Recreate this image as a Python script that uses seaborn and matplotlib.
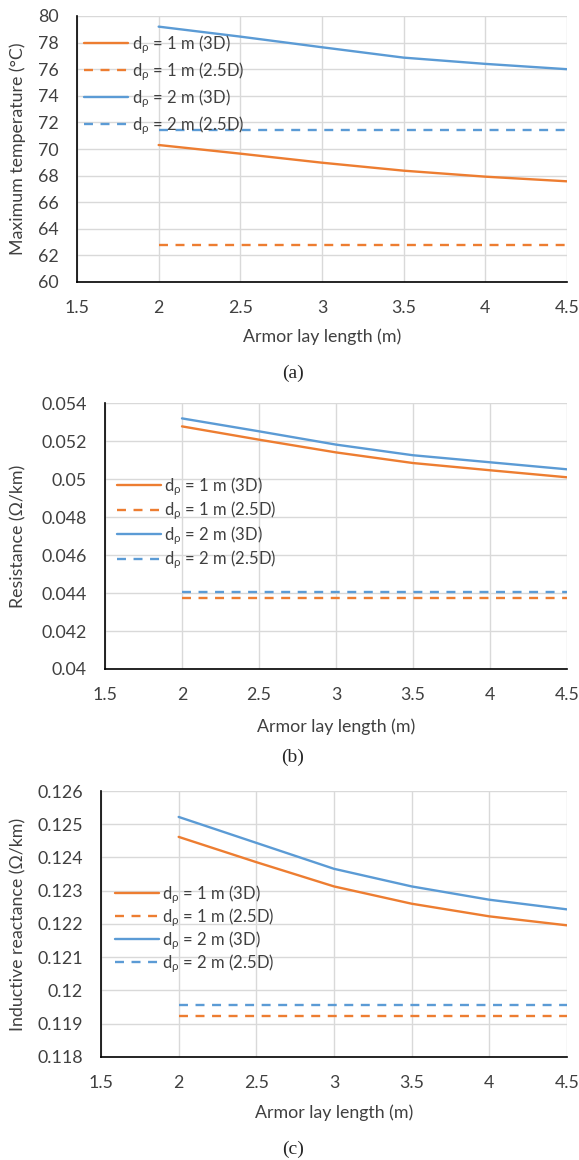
import numpy as np
import pandas as pd
import matplotlib
matplotlib.use("Agg")
import matplotlib.pyplot as plt
import seaborn as sns
from matplotlib.ticker import FuncFormatter, MultipleLocator

sns.set_style("white")
plt.rcParams['font.family'] = ['Lato', 'DejaVu Sans']
plt.rcParams['mathtext.fontset'] = 'custom'
plt.rcParams['mathtext.rm'] = 'Lato'
plt.rcParams['mathtext.it'] = 'Lato'

# ---- data ----
lay_length = [2.0, 2.5, 3.0, 3.5, 4.0, 4.5]
series_names = [r"d$_\rho$ = 1 m (3D)", r"d$_\rho$ = 1 m (2.5D)",
                r"d$_\rho$ = 2 m (3D)", r"d$_\rho$ = 2 m (2.5D)"]

temp_1m_3d = [70.3, 69.65, 68.97, 68.37, 67.92, 67.57]
temp_1m_25d = [62.8] * 6
temp_2m_3d = [79.2, 78.45, 77.65, 76.87, 76.4, 76.0]
temp_2m_25d = [71.43] * 6

res_1m_3d = [0.05277, 0.05207, 0.0514, 0.05084, 0.05046, 0.05009]
res_1m_25d = [0.04375] * 6
res_2m_3d = [0.05319, 0.05251, 0.05181, 0.05125, 0.05088, 0.05051]
res_2m_25d = [0.04407] * 6

xl_1m_3d = [0.12462, 0.12386, 0.12313, 0.12261, 0.12223, 0.12196]
xl_1m_25d = [0.11922] * 6
xl_2m_3d = [0.12522, 0.12444, 0.12366, 0.12313, 0.12273, 0.12244]
xl_2m_25d = [0.11956] * 6

orange = "#ED7D31"
blue = "#5B9BD5"
palette = {series_names[0]: orange, series_names[1]: orange,
           series_names[2]: blue, series_names[3]: blue}
dash_map = {series_names[0]: "", series_names[1]: (3.8, 3.2),
            series_names[2]: "", series_names[3]: (3.8, 3.2)}

W, H = 579, 1160
fig = plt.figure(figsize=(W / 100, H / 100), dpi=100)
FS = 12.8
LFS = 12
TXT = "#404040"

def px_axes(l, t, r, b):
    return fig.add_axes([l / W, 1 - b / H, (r - l) / W, (b - t) / H])

def fmt(v, pos):
    return f"{round(v, 6):g}"

panels = [
    dict(box=(77, 16, 567, 282), data=[temp_1m_3d, temp_1m_25d, temp_2m_3d, temp_2m_25d],
         ylim=(60, 80), step=2, ylabel="Maximum temperature (°C)",
         leg_px=(84, 33), lsp=0.27, cap="(a)", cap_y=373, xlab_y=337),
    dict(box=(105, 403, 567, 669), data=[res_1m_3d, res_1m_25d, res_2m_3d, res_2m_25d],
         ylim=(0.04, 0.054), step=0.002, ylabel="Resistance (Ω/km)",
         leg_px=(117, 475), lsp=0.12, cap="(b)", cap_y=757, xlab_y=727),
    dict(box=(101, 791, 567, 1057), data=[xl_1m_3d, xl_1m_25d, xl_2m_3d, xl_2m_25d],
         ylim=(0.118, 0.126), step=0.001, ylabel="Inductive reactance (Ω/km)",
         leg_px=(115, 883), lsp=0.03, cap="(c)", cap_y=1149, xlab_y=1113),
]

for p in panels:
    l, t, r, b = p["box"]
    ax = px_axes(l, t, r, b)
    rows = []
    for name, vals in zip(series_names, p["data"]):
        for x, y in zip(lay_length, vals):
            rows.append(dict(x=x, y=y, series=name))
    df = pd.DataFrame(rows)
    sns.lineplot(data=df, x="x", y="y", hue="series", style="series",
                 palette=palette, dashes=dash_map, linewidth=1.7, ax=ax,
                 hue_order=series_names, style_order=series_names)
    ax.set_xlim(1.5, 4.5)
    ax.set_ylim(*p["ylim"])
    ax.xaxis.set_major_locator(MultipleLocator(0.5))
    ax.yaxis.set_major_locator(MultipleLocator(p["step"]))
    ax.xaxis.set_major_formatter(FuncFormatter(fmt))
    ax.yaxis.set_major_formatter(FuncFormatter(fmt))
    ax.grid(True, color="#d9d9d9", linewidth=1.0)
    ax.set_axisbelow(True)
    for s in ["top", "right"]:
        ax.spines[s].set_visible(False)
    for s in ["left", "bottom"]:
        ax.spines[s].set_color("#000000")
        ax.spines[s].set_linewidth(1.2)
    ax.tick_params(axis="both", length=0, labelsize=FS, colors=TXT)
    ax.tick_params(axis="x", pad=13)
    ax.tick_params(axis="y", pad=13)
    ax.set_xlabel("Armor lay length (m)", fontsize=FS, color=TXT, va="center")
    ax.xaxis.set_label_coords(0.5, (b - p["xlab_y"]) / (b - t))
    ax.set_ylabel(p["ylabel"], fontsize=FS, color=TXT, va="center")
    ax.yaxis.set_label_coords((18 - l) / (r - l), 0.5)
    lx, ly = p["leg_px"]
    leg = ax.legend(loc="upper left", bbox_to_anchor=((lx - l) / (r - l), (b - ly) / (b - t)),
                    frameon=False, fontsize=LFS, handlelength=2.65, handletextpad=0.2,
                    labelspacing=p["lsp"], borderaxespad=0.0, borderpad=0.0)
    for tx in leg.get_texts():
        tx.set_color(TXT)
    fig.text(293 / W, 1 - p["cap_y"] / H, p["cap"],
             ha="center", va="center", fontsize=14, family="Liberation Serif")

fig.savefig("out.png", dpi=100)
